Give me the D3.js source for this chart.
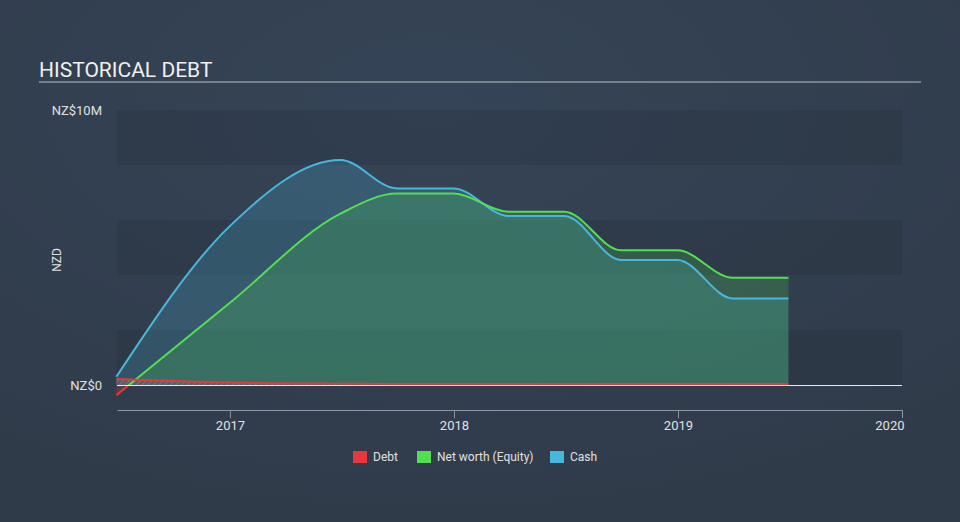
<!DOCTYPE html>
<html><head><meta charset="utf-8">
<script src="https://cdn.jsdelivr.net/npm/d3@7"></script>
<style>
html,body{margin:0;padding:0;background:#333f50;}
svg{display:block;font-family:Roboto, "Open Sans", sans-serif;}
</style></head>
<body>
<svg id="chart" width="960" height="522"></svg>
<script>
const dates = ["2016-06-30","2016-12-31","2017-06-30","2017-09-30","2017-12-31","2018-03-31","2018-06-30","2018-09-30","2018-12-31","2019-03-31","2019-06-30"];
const debt   = [0.22, 0.09, 0.05, 0.04, 0.04, 0.04, 0.04, 0.04, 0.04, 0.04, 0.04];
const equity = [-0.37, 2.97, 6.23, 6.96, 6.96, 6.3, 6.3, 4.9, 4.9, 3.9, 3.9];
const cash   = [0.3, 5.76, 8.18, 7.15, 7.15, 6.15, 6.15, 4.55, 4.55, 3.15, 3.15];
const xTicks = ["2017","2018","2019","2020"];
const yTicks = [0, 10];
const legendItems = ["Debt","Net worth (Equity)","Cash"];

const colors = {debt:"#e8383b", equity:"#52df52", cash:"#48b7dc"};
const parse = d3.timeParse("%Y-%m-%d");
const data = dates.map((d,i)=>({date:parse(d), debt:debt[i], equity:equity[i], cash:cash[i]}));

const svg = d3.select("#chart");
const W=960,H=522;
const defs = svg.append("defs");
const bg = defs.append("radialGradient").attr("id","bg").attr("cx","45%").attr("cy","20%").attr("r","80%");
bg.append("stop").attr("offset","0%").attr("stop-color","#354457");
bg.append("stop").attr("offset","100%").attr("stop-color","#303b4a");
svg.append("rect").attr("width",W).attr("height",H).attr("fill","url(#bg)");

const pL=117, pR=902, pT=110, pB=385;
const x = d3.scaleTime().domain([parse("2016-07-01"), parse("2020-01-01")]).range([pL,pR]);
const y = d3.scaleLinear().domain([0,10]).range([pB,pT]);

// title
svg.append("text").attr("x",39).attr("y",77).attr("fill","#f0f0f0").attr("font-size",21).text("HISTORICAL DEBT");
svg.append("line").attr("x1",39).attr("x2",921).attr("y1",82).attr("y2",82).attr("stroke","#8d96a1").attr("stroke-width",1.5);

// bands
for (let i=0;i<5;i+=2){
  svg.append("rect").attr("x",pL).attr("width",pR-pL)
    .attr("y",y(10-2*i)).attr("height",y(0)-y(2))
    .attr("fill","#000").attr("opacity",0.08);
}

// clip paths
defs.append("clipPath").attr("id","above").append("rect").attr("x",0).attr("y",0).attr("width",W).attr("height",y(0));
defs.append("clipPath").attr("id","below").append("rect").attr("x",0).attr("y",y(0)).attr("width",W).attr("height",H);

// hatch
const pat = defs.append("pattern").attr("id","hatch").attr("patternUnits","userSpaceOnUse").attr("width",4).attr("height",4).attr("patternTransform","rotate(45)");
pat.append("rect").attr("width",4).attr("height",4).attr("fill","#5a5f6a");
pat.append("line").attr("x1",0).attr("y1",0).attr("x2",0).attr("y2",4).attr("stroke","#8a7c84").attr("stroke-width",1.5);

const curve = d3.curveMonotoneX;
const area = key => d3.area().curve(curve).x(d=>x(d.date)).y0(y(0)).y1(d=>y(d[key]));
const line = key => d3.line().curve(curve).x(d=>x(d.date)).y(d=>y(d[key]));

// cash area
svg.append("path").datum(data).attr("d",area("cash")).attr("fill",colors.cash).attr("opacity",0.22);
// equity area
svg.append("path").datum(data).attr("d",area("equity")).attr("fill",colors.equity).attr("opacity",0.2).attr("clip-path","url(#above)");
svg.append("path").datum(data).attr("d",area("equity")).attr("fill",colors.debt).attr("opacity",0.25).attr("clip-path","url(#below)");
// debt hatch area
svg.append("path").datum(data).attr("d",area("debt")).attr("fill","url(#hatch)").attr("opacity",0.9);

// lines
svg.append("path").datum(data).attr("d",line("cash")).attr("fill","none").attr("stroke",colors.cash).attr("stroke-width",2);
svg.append("path").datum(data).attr("d",line("equity")).attr("fill","none").attr("stroke",colors.equity).attr("stroke-width",2).attr("clip-path","url(#above)");
svg.append("path").datum(data).attr("d",line("equity")).attr("fill","none").attr("stroke",colors.debt).attr("stroke-width",2).attr("clip-path","url(#below)");

// zero line
svg.append("line").attr("x1",pL).attr("x2",pR).attr("y1",y(0)+0.5).attr("y2",y(0)+0.5).attr("stroke","#e8e8e8").attr("stroke-width",1);
svg.append("path").datum(data).attr("d",line("debt")).attr("fill","none").attr("stroke",colors.debt).attr("stroke-width",2);

// y labels
svg.selectAll(".ylab").data(yTicks).enter().append("text")
  .attr("x",102).attr("y",d=>y(d)+4.5).attr("text-anchor","end")
  .attr("fill","#e0e0e0").attr("font-size",13)
  .text(d=>d===0?"NZ$0":"NZ$"+d+"M");
svg.append("text").attr("transform","translate(61,260) rotate(-90)").attr("text-anchor","middle")
  .attr("fill","#e0e0e0").attr("font-size",12).text("NZD");

// x axis
const xa = svg.append("g").attr("transform",`translate(0,410)`)
  .call(d3.axisBottom(x).tickValues(xTicks.map(t=>parse(t+"-01-01"))).tickFormat(d3.timeFormat("%Y")).tickSize(8).tickSizeOuter(0));
xa.select(".domain").attr("stroke","#8d96a1");
xa.selectAll(".tick line").attr("stroke","#8d96a1");
xa.selectAll(".tick text").attr("fill","#e0e0e0").attr("font-size",13).attr("font-family","Roboto, sans-serif");
xa.selectAll(".tick").filter((d,i)=>i===xTicks.length-1).select("text").attr("text-anchor","end").attr("dx",2);

// legend
const legX = [353, 417, 550];
const legC = [colors.debt, colors.equity, colors.cash];
legendItems.forEach((t,i)=>{
  svg.append("rect").attr("x",legX[i]).attr("y",451).attr("width",14).attr("height",12).attr("fill",legC[i]);
  svg.append("text").attr("x",legX[i]+20).attr("y",461).attr("fill","#e0e0e0").attr("font-size",12).text(t);
});
</script>
</body></html>
